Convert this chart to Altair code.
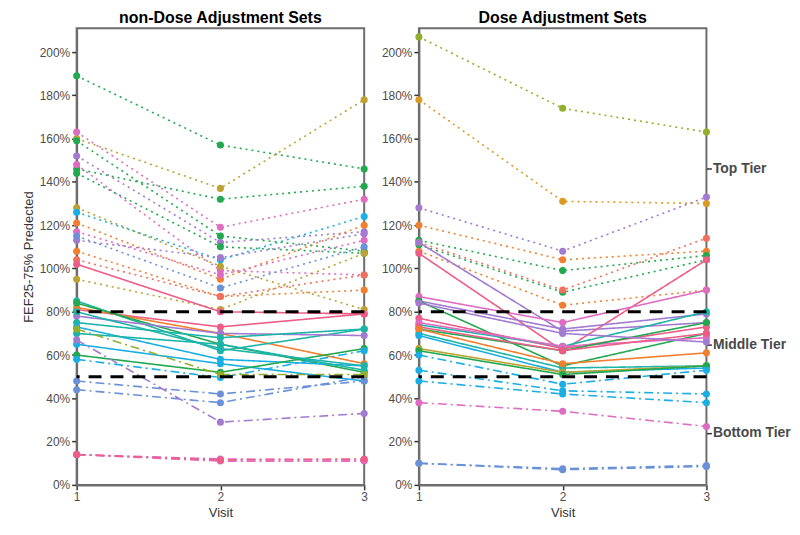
import altair as alt
import pandas as pd

# ---------------- data ----------------
visits = [1, 2, 3]
ref_lines = [80, 50]
tier_names = ["Top Tier", "Middle Tier", "Bottom Tier"]
tier_pos = [146, 65, 24]

# non-Dose Adjustment Sets
left_colors = [
    "green", "olive", "green", "pink", "green", "purple", "green", "pink", "olive",
    "cyan", "orange", "pink", "purple", "blue", "orange", "olive", "salmon",
    "pinkred", "pinkred", "orange", "teal", "green", "purple", "teal", "cyan",
    "teal", "cyan", "green", "teal",
    "blue", "blue", "purple", "cyan", "yellowgreen", "pink", "pink", "pinkred",
]
left_tiers = ["Top"] * 17 + ["Middle"] * 12 + ["Bottom"] * 8
left_v1 = [189, 160, 146, 163, 159, 152, 144, 148, 128, 126, 121, 117, 113, 115, 108, 95, 104,
           102, 81, 82, 85, 84, 78, 75, 73, 70, 65, 60, 80,
           48, 44, 67, 58, 72, 14, 14, 14]
left_v2 = [157, 137, 132, 119, 115, 112, 110, 99, 101, 104, 95, 97, 105, 91, 87, 81, 87,
           80, 73, 70, 62, 65, 70, 68, 58, 65, 56, 52, 63,
           42, 38, 29, 49.6, 51, 12, 11, 11.5]
left_v3 = [146, 178, 138, 132, 108, 117, 107, 97, 81, 124, 120, 113, 116, 110, 90, 107, 97,
           79, 79, 56, 72, 52, 69, 72, 55, 53, 48, 63, 55,
           48, 50, 33, 62, 51, 11.5, 11, 12]

# Dose Adjustment Sets
right_colors = [
    "yellowgreen", "gold", "purple", "orange", "green", "green", "salmon", "orange",
    "purple", "pinkred", "pink", "purple", "green", "pinkred", "teal", "pink", "green",
    "pinkred", "teal", "cyan", "orange", "olive", "green", "purple",
    "cyan", "cyan", "cyan", "pink", "blue", "blue",
]
right_tiers = ["Top"] * 8 + ["Middle"] * 16 + ["Bottom"] * 6
right_v1 = [207, 178, 128, 120, 113, 111, 112, 108,
            112, 107, 87, 85, 85, 77, 74, 75, 72, 73, 70, 69, 72, 63, 62, 84,
            60, 53, 48, 38, 10, 10]
right_v2 = [174, 131, 108, 104, 99, 89, 90, 83,
            71, 62, 75, 72, 55, 63, 64, 64, 62, 62, 54, 52, 56, 52, 51, 70,
            46.5, 43.5, 42, 34, 7.5, 7]
right_v3 = [163, 130, 133, 108, 106, 104, 114, 90,
            75, 104, 90, 79, 70, 73, 80, 68, 75, 70, 55, 54, 61, 55, 55, 66,
            53, 42, 38, 27, 9, 8.5]

color_keys = ["green", "olive", "pink", "purple", "cyan", "orange", "blue", "salmon",
              "pinkred", "teal", "yellowgreen", "gold"]
color_hex = ["#22A84E", "#BDA233", "#DE6CC2", "#A27ACF", "#1BAEE2", "#F08030", "#6A90D8",
             "#F0705E", "#EE5C88", "#1DB4A8", "#93AE2C", "#DD9A22"]


def long_df(colors, tiers, v1, v2, v3, panel):
    rows = []
    for i, (c, t) in enumerate(zip(colors, tiers)):
        for v, val in zip(visits, (v1[i], v2[i], v3[i])):
            rows.append({"panel": panel, "subject": f"{panel}-{i}", "col": c,
                         "tier": t, "visit": v, "value": val})
    return rows


df = pd.DataFrame(long_df(left_colors, left_tiers, left_v1, left_v2, left_v3, "L")
                  + long_df(right_colors, right_tiers, right_v1, right_v2, right_v3, "R"))
ref_df = pd.DataFrame({"ref": ref_lines})
tier_df = pd.DataFrame({"tier_name": tier_names, "tier_pos": tier_pos})

FONT = "Liberation Sans"
YDOM = [0, 211]
W, H = 289, 459

label_expr = " : ".join(
    [f"datum.value == {p} ? '{n}'" for p, n in zip(tier_pos[:-1], tier_names[:-1])]
) + f" : '{tier_names[-1]}'"


def panel(code, title, ytitle, right_axis):
    d = df[df.panel == code]
    x = alt.X("visit:O", scale=alt.Scale(type="point", domain=visits, padding=0),
              axis=alt.Axis(title="Visit", labelAngle=0, labelOverlap=False))
    y = alt.Y("value:Q", scale=alt.Scale(domain=YDOM, nice=False),
              axis=alt.Axis(values=list(range(0, 201, 20)), labelExpr="datum.value + '%'",
                            title=ytitle, labelOverlap=False, labelFlush=False))
    color = alt.Color("col:N", scale=alt.Scale(domain=color_keys, range=color_hex), legend=None)
    dash = alt.StrokeDash("tier:N", scale=alt.Scale(domain=["Top", "Middle", "Bottom"],
                                                      range=[[2, 4], [1, 0], [9, 4, 2, 4]]),
                          legend=None)
    lines = alt.Chart(d).mark_line(strokeWidth=1.6).encode(
        x=x, y=y, color=color, strokeDash=dash, detail="subject:N")
    pts = alt.Chart(d).mark_circle(size=50, opacity=1).encode(
        x=x, y=y, color=color, detail="subject:N")
    rules = alt.Chart(ref_df).mark_rule(color="black", strokeWidth=3, strokeDash=[13, 9]).encode(
        y=alt.Y("ref:Q", scale=alt.Scale(domain=YDOM, nice=False)))
    base = alt.layer(lines, pts, rules)
    if right_axis:
        tiers = alt.Chart(tier_df).mark_tick(opacity=0).encode(
            y=alt.Y("tier_pos:Q", scale=alt.Scale(domain=YDOM, nice=False),
                    axis=alt.Axis(orient="right", values=tier_pos, labelExpr=label_expr,
                                  title=None, labelFontSize=14, labelFontWeight="bold",
                                  labelColor="#4a4a4a", labelPadding=1, domain=False,
                                  tickSize=5)))
        base = alt.layer(base, tiers).resolve_scale(y="independent")
    return base.properties(width=W, height=H,
                           title=alt.TitleParams(title, fontSize=16, fontWeight="bold",
                                                 font=FONT, offset=2, color="black"))


chart = alt.hconcat(
    panel("L", "non-Dose Adjustment Sets", "FEF25-75% Predected", False),
    panel("R", "Dose Adjustment Sets", None, True),
    spacing=11,
).configure(font=FONT).configure_view(
    stroke="#6e6e6e", strokeWidth=2
).configure_axis(
    grid=False, labelFont=FONT, titleFont=FONT, labelFontSize=12, titleFontSize=13,
    labelColor="#4d4d4d", titleColor="#333333", titleFontWeight="normal",
    tickColor="#333333", domainColor="#6e6e6e", domainWidth=2, tickWidth=1.5, tickSize=5,
).properties(padding={"left": 13, "top": 0, "right": 0, "bottom": 5})

chart.save("out.html", embed_options={"renderer": "svg", "actions": False})
